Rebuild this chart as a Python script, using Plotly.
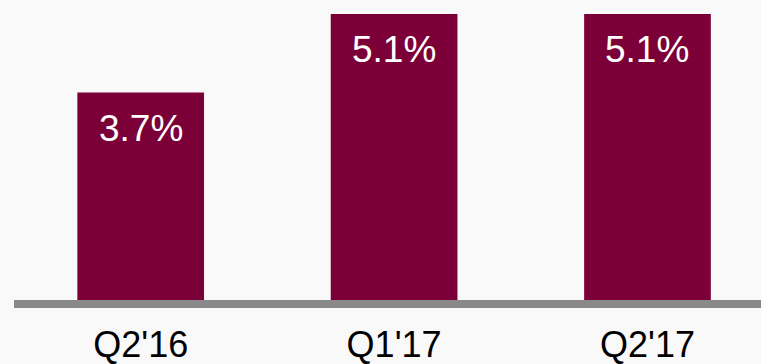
import plotly.graph_objects as go

quarters = ["Q2'16", "Q1'17", "Q2'17"]
rates = [3.7, 5.1, 5.1]
rate_labels = ["3.7%", "5.1%", "5.1%"]

BAR_COLOR = "#7C0038"
FONT = "Arial, Liberation Sans, sans-serif"

fig = go.Figure(
    go.Bar(
        x=quarters,
        y=rates,
        marker=dict(color=BAR_COLOR, line=dict(width=0)),
        width=0.5,
        hoverinfo="skip",
    )
)

# value labels sitting just inside the top of each bar
for q, v, lab in zip(quarters, rates, rate_labels):
    fig.add_annotation(
        x=q, y=v, text=lab, showarrow=False,
        xanchor="center", yanchor="top", yshift=-13,
        font=dict(family=FONT, size=37, color="white"),
    )

fig.update_layout(
    width=761, height=364,
    margin=dict(l=14, r=0, t=0, b=64),
    paper_bgcolor="#f9f9f9",
    plot_bgcolor="rgba(0,0,0,0)",
    showlegend=False,
    bargap=0.5,
    xaxis=dict(
        type="category",
        range=[-0.5, 2.448],
        automargin=False,
        showline=True, linecolor="#898989", linewidth=8,
        showgrid=False, zeroline=False, ticks="",
        ticklabelstandoff=6,
        tickfont=dict(family=FONT, size=36, color="black"),
        fixedrange=True,
    ),
    yaxis=dict(
        range=[0, 5.35],
        automargin=False,
        visible=False, showgrid=False, zeroline=False,
        fixedrange=True,
    ),
)

fig.write_html("out.html")
